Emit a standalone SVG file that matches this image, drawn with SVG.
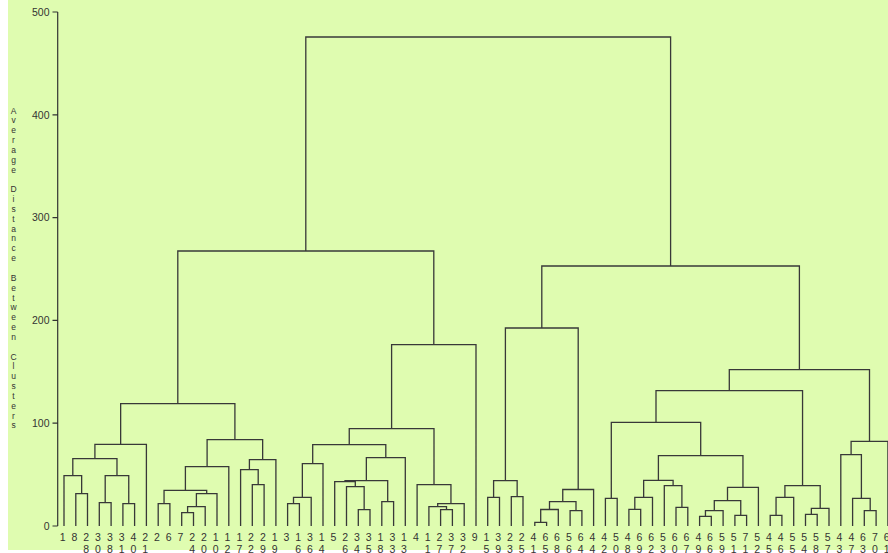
<svg xmlns="http://www.w3.org/2000/svg" width="888" height="553" viewBox="0 0 888 553">
<style>
.bg{fill:#dffcb0}
.ln{fill:none;stroke:#383838;stroke-width:1.3}
.ax{fill:none;stroke:#333;stroke-width:1.2}
text{font-family:"Liberation Sans",Arial,sans-serif;font-size:10.5px;fill:#333}
.lb{text-anchor:middle}
.tk{text-anchor:end}
.tt{text-anchor:middle;font-size:8.5px}
</style>
<rect width="888" height="553" fill="#ffffff"/>
<rect class="bg" x="8" y="0" width="880" height="550"/>
<g id="axis">
<path class="ax" d="M57.7 12V526M52.5 12H57.7M52.5 114.8H57.7M52.5 217.6H57.7M52.5 320.4H57.7M52.5 423.2H57.7M52.5 526H57.7"/>
<text class="tk" x="49.5" y="15.8">500</text>
<text class="tk" x="49.5" y="118.6">400</text>
<text class="tk" x="49.5" y="221.4">300</text>
<text class="tk" x="49.5" y="324.2">200</text>
<text class="tk" x="49.5" y="427">100</text>
<text class="tk" x="49.5" y="529.8">0</text>
<text class="tt" x="13.5" y="113.5"><tspan x="13.5" y="113.5">A</tspan><tspan x="13.5" y="123.3">v</tspan><tspan x="13.5" y="133.2">e</tspan><tspan x="13.5" y="143">r</tspan><tspan x="13.5" y="152.9">a</tspan><tspan x="13.5" y="162.7">g</tspan><tspan x="13.5" y="172.5">e</tspan><tspan x="13.5" y="192.2">D</tspan><tspan x="13.5" y="202.1">i</tspan><tspan x="13.5" y="211.9">s</tspan><tspan x="13.5" y="221.7">t</tspan><tspan x="13.5" y="231.6">a</tspan><tspan x="13.5" y="241.4">n</tspan><tspan x="13.5" y="251.3">c</tspan><tspan x="13.5" y="261.1">e</tspan><tspan x="13.5" y="280.8">B</tspan><tspan x="13.5" y="290.6">e</tspan><tspan x="13.5" y="300.5">t</tspan><tspan x="13.5" y="310.3">w</tspan><tspan x="13.5" y="320.1">e</tspan><tspan x="13.5" y="330">e</tspan><tspan x="13.5" y="339.8">n</tspan><tspan x="13.5" y="359.5">C</tspan><tspan x="13.5" y="369.3">l</tspan><tspan x="13.5" y="379.2">u</tspan><tspan x="13.5" y="389">s</tspan><tspan x="13.5" y="398.9">t</tspan><tspan x="13.5" y="408.7">e</tspan><tspan x="13.5" y="418.5">r</tspan><tspan x="13.5" y="428.4">s</tspan></text>
</g>
<g id="connectors">
<path class="ln" d="M75.8 526V493.7H87.5V526M64 526V475.7H81.65V493.7M99.3 526V502.7H111.1V526M122.9 526V503.7H134.6V526M105.2 502.7V475.7H128.75V503.7M72.8 475.7V458.7H116.98V475.7M94.9 458.7V444.3H146.4V526M158.2 526V503.7H169.9V526M181.7 526V512.7H193.5V526M187.6 512.7V506.7H205.2V526M196.4 506.7V493.7H217V526M164.05 503.7V490.3H206.7V493.7M185.4 490.3V466.7H228.8V526M252.3 526V484.7H264.1V526M240.6 526V469.7H258.2V484.7M249.4 469.7V459.7H275.9V526M207.1 466.7V439.7H262.65V459.7M120.65 444.3V403.7H234.9V439.7"/>
<path class="ln" d="M287.6 526V503.7H299.4V526M293.5 503.7V497.3H311.2V526M302.35 497.3V463.7H323V526M358.3 526V509.7H370V526M346.5 526V486.7H364.15V509.7M334.7 526V481.7H355.3V486.7M381.8 526V501.7H393.6V526M345 481.7V480.7H387.7V501.7M366.35 480.7V457.7H405.3V526M312.7 463.7V444.7H385.8V457.7M440.6 526V509.7H452.4V526M428.9 526V506.7H446.5V509.7M437.7 506.7V503.7H464.2V526M417.1 526V484.7H450.95V503.7M349.25 444.7V428.7H434V484.7M391.6 428.7V344.7H476V526M177.8 403.7V251H433.8V344.7"/>
<path class="ln" d="M487.7 526V497.3H499.5V526M511.3 526V496.7H523V526M493.6 497.3V480.7H517.15V496.7M534.8 526V522.3H546.6V526M540.7 522.3V509.5H558.3V526M570.1 526V510.7H581.9V526M549.5 509.5V501.7H576V510.7M562.75 501.7V489.5H593.6V526M505.4 480.7V328H578.2V489.5"/>
<path class="ln" d="M605.4 526V498.3H617.2V526M628.9 526V509.3H640.7V526M634.8 509.3V497.3H652.5V526M676 526V507.3H687.8V526M664.3 526V485.7H681.9V507.3M643.65 497.3V480.3H673.1V485.7M699.6 526V516.3H711.3V526M705.45 516.3V510.7H723.1V526M734.9 526V515.3H746.6V526M714.3 510.7V500.7H740.75V515.3M727.5 500.7V487.3H758.4V526M658.4 480.3V455.7H742.95V487.3M611.3 498.3V422.3H700.7V455.7M770.2 526V515.3H781.9V526M776.05 515.3V497.3H793.7V526M805.5 526V514.3H817.2V526M811.35 514.3V508.3H829V526M784.9 497.3V485.7H820.2V508.3M656 422.3V390.7H802.55V485.7M864.3 526V510.7H876.1V526M852.6 526V498.3H870.2V510.7M840.8 526V454.7H861.4V498.3M851.1 454.7V441.3H887.9V526M729.3 390.7V369.7H869.5V441.3M541.8 328V266H799.4V369.7M305.8 251V37H670.6V266"/>
</g>
<g id="leaf-1"><text class="lb" x="62.7" y="541">1</text></g>
<g id="leaf-8"><text class="lb" x="74.5" y="541">8</text></g>
<g id="leaf-28"><text class="lb" x="86.2" y="541">2<tspan x="86.2" y="552.5">8</tspan></text></g>
<g id="leaf-30"><text class="lb" x="98" y="541">3<tspan x="98" y="552.5">0</tspan></text></g>
<g id="leaf-38"><text class="lb" x="109.8" y="541">3<tspan x="109.8" y="552.5">8</tspan></text></g>
<g id="leaf-31"><text class="lb" x="121.6" y="541">3<tspan x="121.6" y="552.5">1</tspan></text></g>
<g id="leaf-40"><text class="lb" x="133.3" y="541">4<tspan x="133.3" y="552.5">0</tspan></text></g>
<g id="leaf-21"><text class="lb" x="145.1" y="541">2<tspan x="145.1" y="552.5">1</tspan></text></g>
<g id="leaf-2"><text class="lb" x="156.9" y="541">2</text></g>
<g id="leaf-6"><text class="lb" x="168.6" y="541">6</text></g>
<g id="leaf-7"><text class="lb" x="180.4" y="541">7</text></g>
<g id="leaf-24"><text class="lb" x="192.2" y="541">2<tspan x="192.2" y="552.5">4</tspan></text></g>
<g id="leaf-20"><text class="lb" x="203.9" y="541">2<tspan x="203.9" y="552.5">0</tspan></text></g>
<g id="leaf-10"><text class="lb" x="215.7" y="541">1<tspan x="215.7" y="552.5">0</tspan></text></g>
<g id="leaf-12"><text class="lb" x="227.5" y="541">1<tspan x="227.5" y="552.5">2</tspan></text></g>
<g id="leaf-17"><text class="lb" x="239.3" y="541">1<tspan x="239.3" y="552.5">7</tspan></text></g>
<g id="leaf-22"><text class="lb" x="251" y="541">2<tspan x="251" y="552.5">2</tspan></text></g>
<g id="leaf-29"><text class="lb" x="262.8" y="541">2<tspan x="262.8" y="552.5">9</tspan></text></g>
<g id="leaf-19"><text class="lb" x="274.6" y="541">1<tspan x="274.6" y="552.5">9</tspan></text></g>
<g id="leaf-3"><text class="lb" x="286.3" y="541">3</text></g>
<g id="leaf-16"><text class="lb" x="298.1" y="541">1<tspan x="298.1" y="552.5">6</tspan></text></g>
<g id="leaf-36"><text class="lb" x="309.9" y="541">3<tspan x="309.9" y="552.5">6</tspan></text></g>
<g id="leaf-14"><text class="lb" x="321.7" y="541">1<tspan x="321.7" y="552.5">4</tspan></text></g>
<g id="leaf-5"><text class="lb" x="333.4" y="541">5</text></g>
<g id="leaf-26"><text class="lb" x="345.2" y="541">2<tspan x="345.2" y="552.5">6</tspan></text></g>
<g id="leaf-34"><text class="lb" x="357" y="541">3<tspan x="357" y="552.5">4</tspan></text></g>
<g id="leaf-35"><text class="lb" x="368.7" y="541">3<tspan x="368.7" y="552.5">5</tspan></text></g>
<g id="leaf-18"><text class="lb" x="380.5" y="541">1<tspan x="380.5" y="552.5">8</tspan></text></g>
<g id="leaf-33"><text class="lb" x="392.3" y="541">3<tspan x="392.3" y="552.5">3</tspan></text></g>
<g id="leaf-13"><text class="lb" x="404" y="541">1<tspan x="404" y="552.5">3</tspan></text></g>
<g id="leaf-4"><text class="lb" x="415.8" y="541">4</text></g>
<g id="leaf-11"><text class="lb" x="427.6" y="541">1<tspan x="427.6" y="552.5">1</tspan></text></g>
<g id="leaf-27"><text class="lb" x="439.3" y="541">2<tspan x="439.3" y="552.5">7</tspan></text></g>
<g id="leaf-37"><text class="lb" x="451.1" y="541">3<tspan x="451.1" y="552.5">7</tspan></text></g>
<g id="leaf-32"><text class="lb" x="462.9" y="541">3<tspan x="462.9" y="552.5">2</tspan></text></g>
<g id="leaf-9"><text class="lb" x="474.7" y="541">9</text></g>
<g id="leaf-15"><text class="lb" x="486.4" y="541">1<tspan x="486.4" y="552.5">5</tspan></text></g>
<g id="leaf-39"><text class="lb" x="498.2" y="541">3<tspan x="498.2" y="552.5">9</tspan></text></g>
<g id="leaf-23"><text class="lb" x="510" y="541">2<tspan x="510" y="552.5">3</tspan></text></g>
<g id="leaf-25"><text class="lb" x="521.7" y="541">2<tspan x="521.7" y="552.5">5</tspan></text></g>
<g id="leaf-41"><text class="lb" x="533.5" y="541">4<tspan x="533.5" y="552.5">1</tspan></text></g>
<g id="leaf-65"><text class="lb" x="545.3" y="541">6<tspan x="545.3" y="552.5">5</tspan></text></g>
<g id="leaf-68"><text class="lb" x="557" y="541">6<tspan x="557" y="552.5">8</tspan></text></g>
<g id="leaf-56"><text class="lb" x="568.8" y="541">5<tspan x="568.8" y="552.5">6</tspan></text></g>
<g id="leaf-64"><text class="lb" x="580.6" y="541">6<tspan x="580.6" y="552.5">4</tspan></text></g>
<g id="leaf-44"><text class="lb" x="592.3" y="541">4<tspan x="592.3" y="552.5">4</tspan></text></g>
<g id="leaf-42"><text class="lb" x="604.1" y="541">4<tspan x="604.1" y="552.5">2</tspan></text></g>
<g id="leaf-50"><text class="lb" x="615.9" y="541">5<tspan x="615.9" y="552.5">0</tspan></text></g>
<g id="leaf-48"><text class="lb" x="627.6" y="541">4<tspan x="627.6" y="552.5">8</tspan></text></g>
<g id="leaf-69"><text class="lb" x="639.4" y="541">6<tspan x="639.4" y="552.5">9</tspan></text></g>
<g id="leaf-62"><text class="lb" x="651.2" y="541">6<tspan x="651.2" y="552.5">2</tspan></text></g>
<g id="leaf-53"><text class="lb" x="663" y="541">5<tspan x="663" y="552.5">3</tspan></text></g>
<g id="leaf-60"><text class="lb" x="674.7" y="541">6<tspan x="674.7" y="552.5">0</tspan></text></g>
<g id="leaf-67"><text class="lb" x="686.5" y="541">6<tspan x="686.5" y="552.5">7</tspan></text></g>
<g id="leaf-49"><text class="lb" x="698.3" y="541">4<tspan x="698.3" y="552.5">9</tspan></text></g>
<g id="leaf-66"><text class="lb" x="710" y="541">6<tspan x="710" y="552.5">6</tspan></text></g>
<g id="leaf-59"><text class="lb" x="721.8" y="541">5<tspan x="721.8" y="552.5">9</tspan></text></g>
<g id="leaf-51"><text class="lb" x="733.6" y="541">5<tspan x="733.6" y="552.5">1</tspan></text></g>
<g id="leaf-71"><text class="lb" x="745.3" y="541">7<tspan x="745.3" y="552.5">1</tspan></text></g>
<g id="leaf-52"><text class="lb" x="757.1" y="541">5<tspan x="757.1" y="552.5">2</tspan></text></g>
<g id="leaf-45"><text class="lb" x="768.9" y="541">4<tspan x="768.9" y="552.5">5</tspan></text></g>
<g id="leaf-46"><text class="lb" x="780.6" y="541">4<tspan x="780.6" y="552.5">6</tspan></text></g>
<g id="leaf-55"><text class="lb" x="792.4" y="541">5<tspan x="792.4" y="552.5">5</tspan></text></g>
<g id="leaf-54"><text class="lb" x="804.2" y="541">5<tspan x="804.2" y="552.5">4</tspan></text></g>
<g id="leaf-58"><text class="lb" x="815.9" y="541">5<tspan x="815.9" y="552.5">8</tspan></text></g>
<g id="leaf-57"><text class="lb" x="827.7" y="541">5<tspan x="827.7" y="552.5">7</tspan></text></g>
<g id="leaf-43"><text class="lb" x="839.5" y="541">4<tspan x="839.5" y="552.5">3</tspan></text></g>
<g id="leaf-47"><text class="lb" x="851.3" y="541">4<tspan x="851.3" y="552.5">7</tspan></text></g>
<g id="leaf-63"><text class="lb" x="863" y="541">6<tspan x="863" y="552.5">3</tspan></text></g>
<g id="leaf-70"><text class="lb" x="874.8" y="541">7<tspan x="874.8" y="552.5">0</tspan></text></g>
<g id="leaf-61"><text class="lb" x="886.6" y="541">6<tspan x="886.6" y="552.5">1</tspan></text></g>
</svg>
